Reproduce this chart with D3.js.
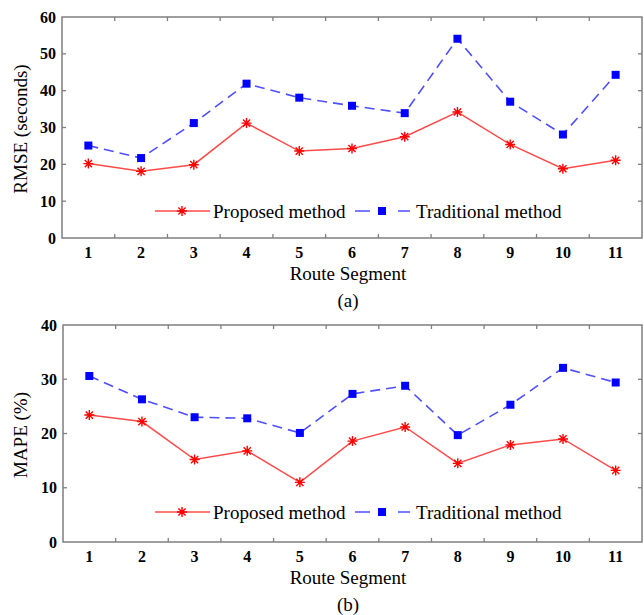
<!DOCTYPE html>
<html><head><meta charset="utf-8">
<script src="https://cdn.jsdelivr.net/npm/d3@7"></script>
<style>body{margin:0;background:#fff}svg{display:block}text{font-family:"Liberation Serif","Times New Roman",serif}</style>
</head><body>
<svg id="c" width="644" height="615"></svg>
<script>
const segments = [1,2,3,4,5,6,7,8,9,10,11];
const rmseProposed    = [20.2,18.1,19.9,31.2,23.6,24.3,27.5,34.2,25.4,18.8,21.1];
const rmseTraditional = [25.1,21.7,31.2,41.9,38.1,35.9,33.9,54.1,37.0,28.1,44.3];
const mapeProposed    = [23.4,22.2,15.2,16.8,11.0,18.6,21.2,14.5,17.9,19.0,13.2];
const mapeTraditional = [30.6,26.3,23.0,22.8,20.1,27.3,28.8,19.7,25.3,32.1,29.4];
const rmseTicks = [0,10,20,30,40,50,60];
const mapeTicks = [0,10,20,30,40];
const seriesNames = ["Proposed method","Traditional method"];

const svg = d3.select("#c");
const redLine = "#ff4a4a", redMark = "#ff0000", blueLine = "#4f4fff", blueMark = "#0000ff", axisCol = "#7f7f7f";

function star(g, x, y, r, col){
  const a = r*0.72;
  const p = `M${x-r},${y}L${x+r},${y}M${x},${y-r}L${x},${y+r}M${x-a},${y-a}L${x+a},${y+a}M${x-a},${y+a}L${x+a},${y-a}`;
  g.append("path").attr("d", p).attr("stroke", col).attr("stroke-width", 1.4).attr("fill","none");
}
function square(g, x, y, s, col){
  g.append("rect").attr("x", x-s/2).attr("y", y-s/2).attr("width", s).attr("height", s).attr("fill", col);
}

function panel(cfg){
  const x = d3.scaleLinear().domain([0.5, 11.5]).range([cfg.left, cfg.right]);
  const y = d3.scaleLinear().domain([0, cfg.ymax]).range([cfg.bottom, cfg.top]);
  const g = svg.append("g");
  g.append("rect").attr("x", cfg.left).attr("y", cfg.top).attr("width", cfg.right-cfg.left).attr("height", cfg.bottom-cfg.top)
    .attr("fill","none").attr("stroke", axisCol).attr("stroke-width", 1.5);
  const xb = d3.range(1.5, 11, 1);
  xb.forEach(v => {
    g.append("line").attr("x1", x(v)).attr("x2", x(v)).attr("y1", cfg.bottom).attr("y2", cfg.bottom-4).attr("stroke", axisCol).attr("stroke-width",1.3);
    g.append("line").attr("x1", x(v)).attr("x2", x(v)).attr("y1", cfg.top).attr("y2", cfg.top+4).attr("stroke", axisCol).attr("stroke-width",1.3);
  });
  cfg.ticks.forEach(v => {
    if (v>0 && v<cfg.ymax){
      g.append("line").attr("x1", cfg.left).attr("x2", cfg.left+4).attr("y1", y(v)).attr("y2", y(v)).attr("stroke", axisCol).attr("stroke-width",1.3);
      g.append("line").attr("x1", cfg.right).attr("x2", cfg.right-4).attr("y1", y(v)).attr("y2", y(v)).attr("stroke", axisCol).attr("stroke-width",1.3);
    }
    g.append("text").attr("x", cfg.left-6).attr("y", y(v)).attr("dy","0.35em").attr("text-anchor","end")
      .attr("font-size", 16).attr("font-weight","bold").text(v);
  });
  segments.forEach(s => {
    g.append("text").attr("x", x(s)).attr("y", cfg.bottom+20).attr("text-anchor","middle")
      .attr("font-size", 16).attr("font-weight","bold").text(s);
  });
  g.append("text").attr("x", cfg.titleX).attr("y", cfg.bottom+42).attr("text-anchor","middle").attr("font-size", 19).text("Route Segment");
  g.append("text").attr("x", cfg.titleX).attr("y", cfg.bottom+69).attr("text-anchor","middle").attr("font-size", 19).text(cfg.label);
  g.append("text").attr("transform", `translate(27,${cfg.ylabY}) rotate(-90)`).attr("text-anchor","middle").attr("font-size", 19).text(cfg.ylabel);
  const line = d3.line().x((d,i)=>x(segments[i])).y(d=>y(d));
  g.append("path").datum(cfg.trad).attr("d", line).attr("fill","none").attr("stroke", blueLine).attr("stroke-width",1.6).attr("stroke-dasharray","10,6");
  g.append("path").datum(cfg.prop).attr("d", line).attr("fill","none").attr("stroke", redLine).attr("stroke-width",1.5);
  cfg.trad.forEach((d,i)=>square(g, x(segments[i]), y(d), 8, blueMark));
  cfg.prop.forEach((d,i)=>star(g, x(segments[i]), y(d), 5, redMark));
  const ly = cfg.legendY;
  g.append("line").attr("x1",155).attr("x2",210).attr("y1",ly).attr("y2",ly).attr("stroke",redLine).attr("stroke-width",1.5);
  star(g, 182, ly, 5, redMark);
  g.append("text").attr("x",213).attr("y",ly).attr("dy","0.35em").attr("font-size",19).text(seriesNames[0]);
  g.append("line").attr("x1",355).attr("x2",410).attr("y1",ly).attr("y2",ly).attr("stroke",blueLine).attr("stroke-width",1.6).attr("stroke-dasharray","15,28");
  square(g, 382, ly, 8, blueMark);
  g.append("text").attr("x",416).attr("y",ly).attr("dy","0.35em").attr("font-size",19).text(seriesNames[1]);
}

panel({left:62, right:642, top:17, bottom:238, ymax:60, ticks:rmseTicks, prop:rmseProposed, trad:rmseTraditional,
  label:"(a)", ylabel:"RMSE (seconds)", ylabY:129, titleX:348, legendY:211});
panel({left:63, right:642, top:325, bottom:542, ymax:40, ticks:mapeTicks, prop:mapeProposed, trad:mapeTraditional,
  label:"(b)", ylabel:"MAPE (%)", ylabY:435, titleX:348, legendY:512});
</script>
</body></html>
